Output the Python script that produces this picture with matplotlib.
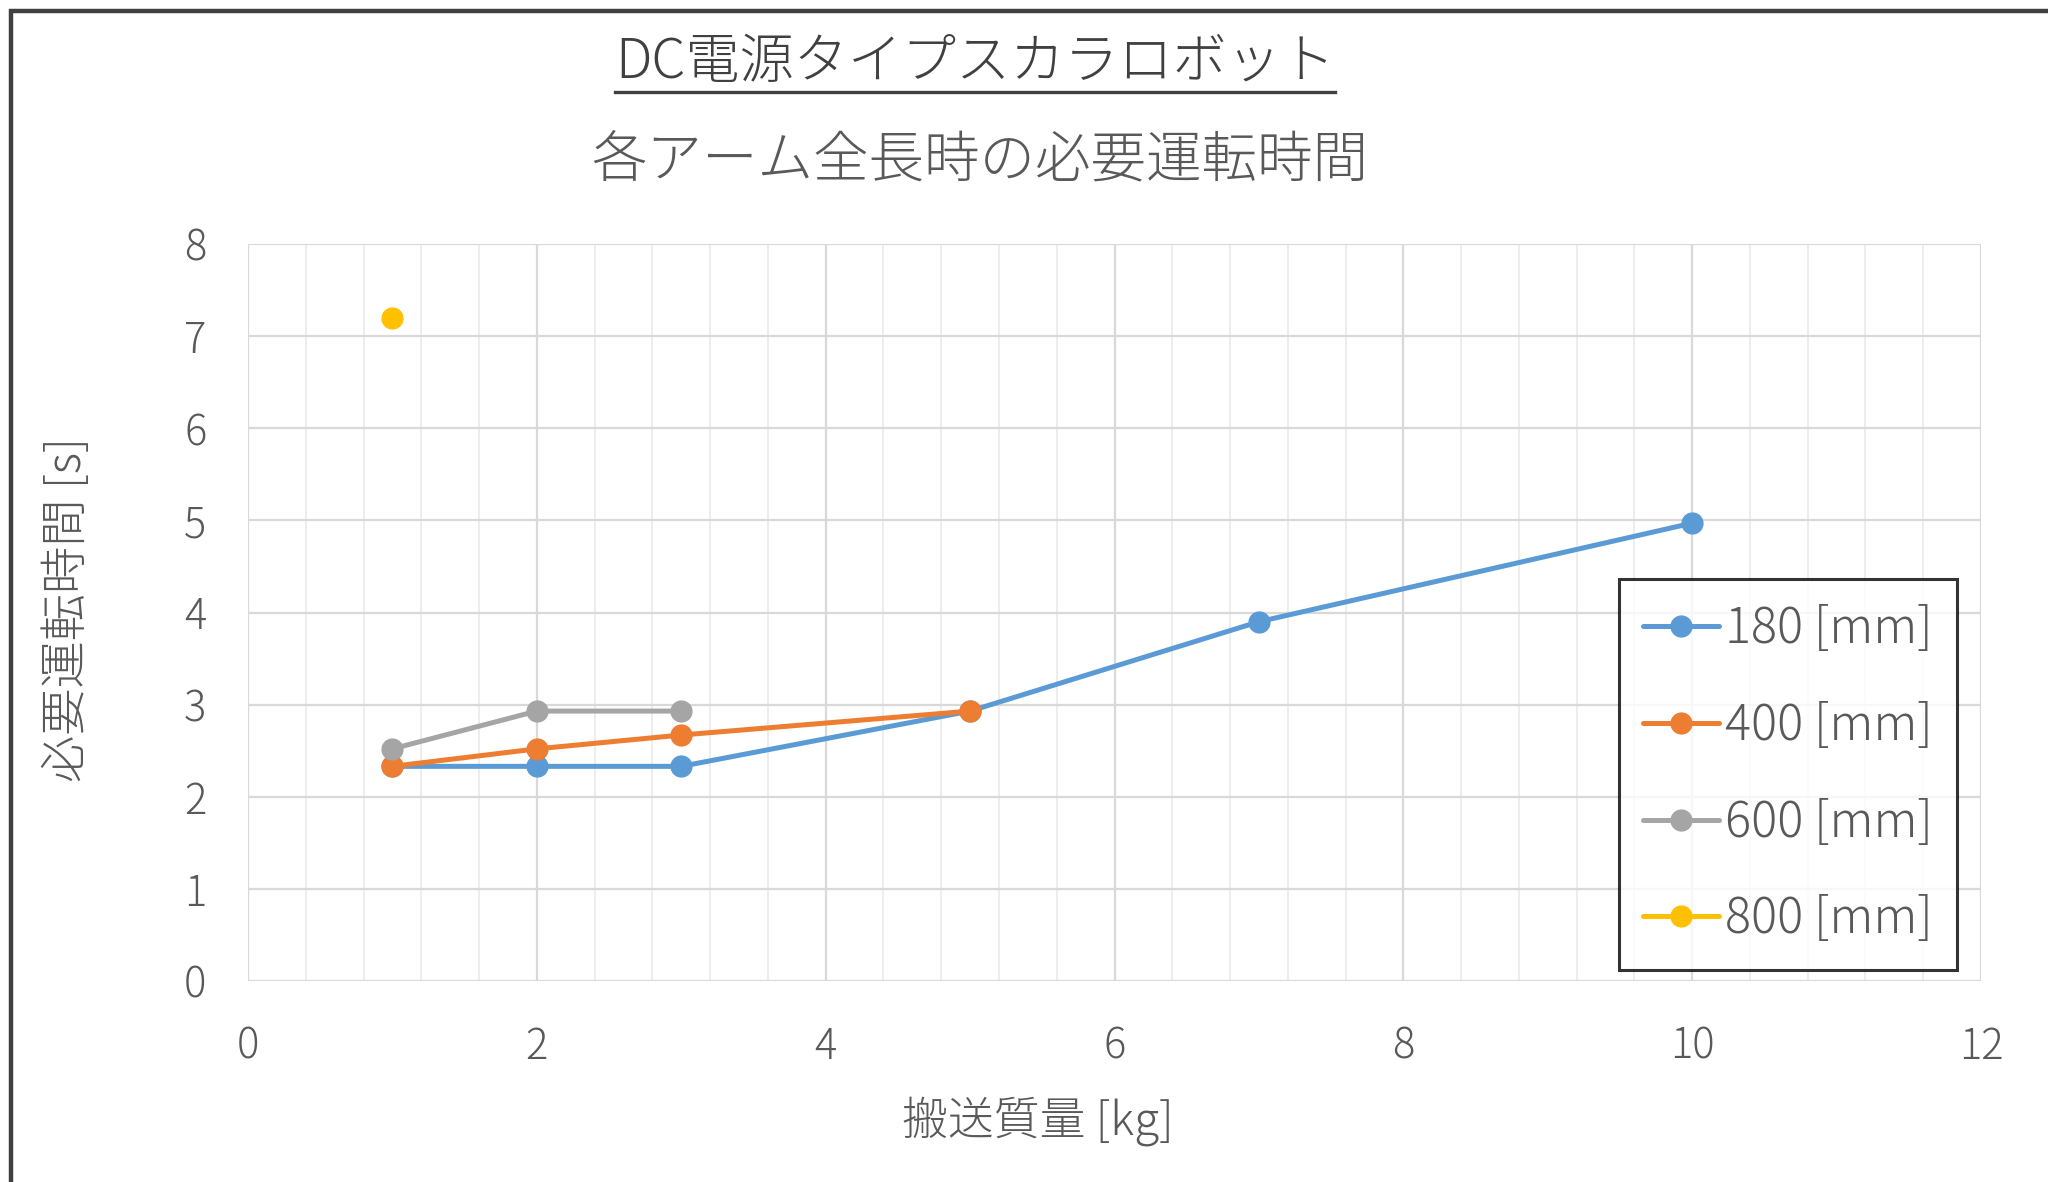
import matplotlib
matplotlib.use("Agg")
import matplotlib.pyplot as plt
from matplotlib.lines import Line2D
from matplotlib.patches import Rectangle
from matplotlib.ticker import MultipleLocator

plt.rcParams['font.family'] = ['Noto Sans CJK JP', 'DejaVu Sans']

# Data: transported mass [kg] vs required operating time [s] per arm length
x_180 = [1, 2, 3, 5, 7, 10]
y_180 = [2.33, 2.33, 2.33, 2.93, 3.90, 4.97]
x_400 = [1, 2, 3, 5]
y_400 = [2.33, 2.52, 2.67, 2.93]
x_600 = [1, 2, 3]
y_600 = [2.52, 2.93, 2.93]
x_800 = [1]
y_800 = [7.2]

series_labels = ['180 [mm]', '400 [mm]', '600 [mm]', '800 [mm]']
series_colors = ['#5B9BD5', '#ED7D31', '#A5A5A5', '#FFC000']

title = 'DC電源タイプスカラロボット'
subtitle = '各アーム全長時の必要運転時間'
xlabel = '搬送質量 [kg]'
ylabel = '必要運転時間 [s]'

text_color = '#595959'
W, H = 2048, 1182
fig = plt.figure(figsize=(W / 100, H / 100), dpi=100)

# outer chart frame
fig.patches.append(Rectangle((11 / W, -0.1), 1.2, 1 - 11 / H + 0.1,
                             transform=fig.transFigure, fill=False,
                             edgecolor='#404040', linewidth=3.2))

ax = fig.add_axes([248 / W, 1 - 981 / H, (1981 - 248) / W, (981 - 244) / H])
ax.set_xlim(0, 12)
ax.set_ylim(0, 8)
ax.xaxis.set_major_locator(MultipleLocator(2))
ax.xaxis.set_minor_locator(MultipleLocator(0.4))
ax.yaxis.set_major_locator(MultipleLocator(1))
ax.grid(which='major', color='#D9D9D9', linewidth=1.6, zorder=0)
ax.grid(which='minor', axis='x', color='#EDEDED', linewidth=1.4, zorder=0)
ax.set_axisbelow(True)
for s in ax.spines.values():
    s.set_visible(False)
ax.tick_params(which='both', length=0)
ax.tick_params(axis='y', pad=30, labelsize=30, labelcolor=text_color)
ax.tick_params(axis='x', pad=32, labelsize=30, labelcolor=text_color)
for lab in ax.get_xticklabels() + ax.get_yticklabels():
    lab.set_fontweight('light')

series = [(x_180, y_180), (x_400, y_400), (x_600, y_600), (x_800, y_800)]
for (xs, ys), lab, col in zip(series, series_labels, series_colors):
    ax.plot(xs, ys, color=col, linewidth=3.6, marker='o', markersize=15,
            label=lab, zorder=3, solid_capstyle='round')

leg = ax.legend(loc='upper right', bbox_to_anchor=(0.986, 0.545),
                fontsize=35, frameon=True, fancybox=False,
                edgecolor='black', handlelength=1.55, handletextpad=0.12,
                labelspacing=0.93, borderpad=0.5, borderaxespad=0)
leg.get_frame().set_linewidth(2.2)
for t in leg.get_texts():
    t.set_color(text_color)
    t.set_fontweight('light')

fig.text(1038 / W, 1 - 1121 / H, xlabel, ha='center', va='center',
         fontsize=33, color=text_color, fontweight='light')
fig.text(68 / W, 1 - 610 / H, ylabel, ha='center', va='center',
         rotation=90, fontsize=34, color=text_color, fontweight='light')

t1 = fig.text(975 / W, 1 - 62 / H, title, ha='center', va='center',
              fontsize=39, color='#404040', fontweight='light')
fig.text(980 / W, 1 - 160 / H, subtitle, ha='center', va='center',
         fontsize=40, color=text_color, fontweight='light')

# underline beneath the title
fig.canvas.draw()
bb = t1.get_window_extent(renderer=fig.canvas.get_renderer())
uy = bb.y0 - 1
fig.add_artist(Line2D([bb.x0 / W, bb.x1 / W], [uy / H, uy / H],
                      transform=fig.transFigure, color='#404040',
                      linewidth=2.4))

fig.savefig('out.png', dpi=100)
